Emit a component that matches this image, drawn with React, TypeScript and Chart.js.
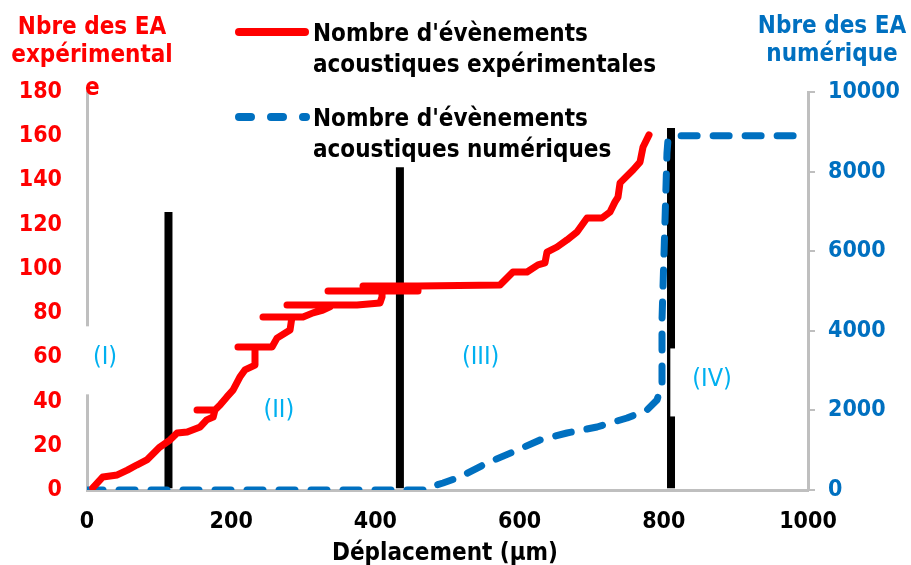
import React, { useEffect, useRef } from "react";
import { Chart, registerables } from "chart.js";

Chart.register(...registerables);

// Experimental acoustic events (left axis)
const expX = [8, 22, 42, 56, 69, 83, 101, 115, 125, 139, 157, 166, 175, 177.5, 152.6, 177.5, 184.5, 194, 202.5, 212, 219, 233, 233, 209.4, 233, 256.6, 263.5, 281.6, 284.3, 244.1, 284.3, 299.6, 313.5, 327.3, 337, 337, 277.4, 337, 374.5, 406.4, 409.2, 409.2, 334.3, 409.2, 459.1, 459.1, 382.8, 459.1, 572.8, 590.8, 610.3, 625.5, 635.2, 638, 651.9, 665.7, 679.6, 693.5, 714.3, 725.4, 732.3, 736.5, 739.3, 757.3, 767, 771.2, 779.5];
const expY = [1, 5.9, 6.8, 9, 11.3, 13.6, 19.4, 22.6, 25.8, 26.2, 28.5, 31.7, 33, 36.2, 36.2, 36.2, 38.4, 42.1, 45.2, 51.1, 54.3, 56.5, 64.7, 64.7, 64.7, 64.7, 68.7, 72.4, 78.2, 78.2, 78.2, 78.2, 80.1, 81.4, 82.8, 83.7, 83.7, 83.7, 83.7, 84.6, 87.3, 90, 90, 90, 90, 92.3, 92.3, 92.3, 92.7, 98.6, 98.6, 101.8, 102.7, 107.6, 109.9, 113.1, 116.7, 123, 123, 125.7, 130.3, 132.5, 138.9, 144.7, 148.3, 155.1, 160.6];

// Numerical acoustic events (right axis)
const numX = [0, 470, 475.7, 493.8, 517.3, 554.8, 590.8, 628.3, 665.7, 707.4, 749, 776.7, 790.6, 797.5, 797.5, 801.7, 804.4, 805.8, 822.5, 1000];
const numY = [0, 0, 75, 176, 327, 678, 955, 1256, 1432, 1583, 1809, 2010, 2261, 2688, 4271, 6784, 8467, 8794, 8900, 8900];

// Phase separators (black vertical bars)
const phaseBarX = [113, 434, 810];
const phaseBarTop = [125.7, 146, 163.7];

// Phase labels
const phaseLabels = ["(I)", "(II)", "(III)", "(IV)"];
const phaseLabelX = [25, 266, 546, 867];
const phaseLabelY = [60, 36, 60, 50];

const leftTitle = ["Nbre des EA", "expérimental", "e"];
const rightTitle = ["Nbre des EA", "numérique"];
const xTitle = "Déplacement (µm)";
const legendExp = ["Nombre d'évènements", "acoustiques expérimentales"];
const legendNum = ["Nombre d'évènements", "acoustiques numériques"];

const FONT = "'DejaVu Sans Condensed', 'DejaVu Sans', sans-serif";
const RED = "#FF0000";
const BLUE = "#0070C0";
const LIGHTBLUE = "#00B0F0";
const GRAY = "#BFBFBF";

const overlay = {
  id: "overlay",
  beforeDatasetDraw(chart: any, args: any) {
    if (args.index !== 1) return;
    const ctx = chart.ctx;
    const xs = chart.scales.x;
    const ys = chart.scales.y;
    ctx.save();
    ctx.font = `normal 25px ${FONT}`;
    phaseLabels.forEach((t, i) => {
      const cx = xs.getPixelForValue(phaseLabelX[i]);
      const cy = ys.getPixelForValue(phaseLabelY[i]);
      const w = ctx.measureText(t).width;
      ctx.fillStyle = "#ffffff";
      ctx.fillRect(cx - w / 2 - 22, cy - 31, w + 44, 68);
      ctx.fillStyle = LIGHTBLUE;
      ctx.textAlign = "center";
      ctx.textBaseline = "middle";
      ctx.fillText(t, cx, cy);
    });
    ctx.restore();
  },
  afterDraw(chart: any) {
    const ctx = chart.ctx;
    ctx.save();
    ctx.textBaseline = "alphabetic";
    ctx.font = `bold 24px ${FONT}`;
    // left title
    ctx.fillStyle = RED;
    ctx.textAlign = "center";
    ctx.fillText(leftTitle[0], 92, 34);
    ctx.fillText(leftTitle[1], 92, 62);
    ctx.textAlign = "left";
    ctx.fillText(leftTitle[2], 85, 95);
    // right title
    ctx.fillStyle = BLUE;
    ctx.textAlign = "center";
    ctx.fillText(rightTitle[0], 832, 33);
    ctx.fillText(rightTitle[1], 832, 61);
    // x title
    ctx.fillStyle = "#000";
    ctx.fillText(xTitle, 445, 560);
    // legend
    ctx.textAlign = "left";
    ctx.fillText(legendExp[0], 313, 41);
    ctx.fillText(legendExp[1], 313, 72);
    ctx.fillText(legendNum[0], 313, 126);
    ctx.fillText(legendNum[1], 313, 157);
    ctx.lineCap = "round";
    ctx.lineWidth = 8;
    ctx.strokeStyle = RED;
    ctx.beginPath();
    ctx.moveTo(239, 32);
    ctx.lineTo(305, 32);
    ctx.stroke();
    ctx.strokeStyle = BLUE;
    ctx.setLineDash([12, 20]);
    ctx.beginPath();
    ctx.moveTo(239, 117);
    ctx.lineTo(306, 117);
    ctx.stroke();
    ctx.restore();
  },
};

const plain = (v: any) => String(v);

export default function App() {
  const ref = useRef<HTMLCanvasElement>(null);
  useEffect(() => {
    if (!ref.current) return;
    const bars = phaseBarX.map((x, i) => ({
      type: "scatter" as const,
      label: "bar" + i,
      data: [
        { x, y: 0.8 },
        { x, y: phaseBarTop[i] },
      ],
      yAxisID: "y",
      showLine: true,
      borderColor: "#000000",
      borderWidth: 8,
      borderCapStyle: "butt",
      pointRadius: 0,
      order: 2,
    }));
    const chart = new Chart(ref.current, {
      type: "scatter",
      data: {
        datasets: [
          {
            label: legendExp.join(" "),
            data: expX.map((x, i) => ({ x, y: expY[i] })),
            yAxisID: "y",
            showLine: true,
            borderColor: RED,
            borderWidth: 7,
            borderJoinStyle: "round",
            borderCapStyle: "round",
            pointRadius: 0,
            order: 0,
          },
          {
            label: legendNum.join(" "),
            data: numX.map((x, i) => ({ x, y: numY[i] })),
            yAxisID: "y1",
            showLine: true,
            borderColor: BLUE,
            borderWidth: 7,
            borderDash: [16, 16],
            borderJoinStyle: "round",
            borderCapStyle: "round",
            pointRadius: 0,
            order: 1,
          },
          ...bars,
        ] as any,
      },
      options: {
        animation: false,
        responsive: false,
        devicePixelRatio: 1,
        events: [],
        layout: { padding: { top: 92, left: 0, right: 0, bottom: 0 } },
        plugins: { legend: { display: false }, tooltip: { enabled: false } },
        scales: {
          x: {
            type: "linear",
            min: 0,
            max: 1000,
            ticks: {
              stepSize: 200,
              color: "#000",
              font: { family: FONT, size: 23, weight: "bold" },
              padding: 18,
              maxRotation: 0,
              callback: plain,
            },
            grid: { display: false, drawTicks: false },
            border: { display: true, color: GRAY, width: 3 },
            afterFit: (s: any) => {
              s.height = 75;
            },
          },
          y: {
            type: "linear",
            position: "left",
            min: 0,
            max: 180,
            ticks: {
              stepSize: 20,
              color: RED,
              font: { family: FONT, size: 23, weight: "bold" },
              padding: 25,
              callback: plain,
            },
            grid: { display: false, drawTicks: false },
            border: { display: true, color: GRAY, width: 3 },
            afterFit: (s: any) => {
              s.width = 87;
            },
          },
          y1: {
            type: "linear",
            position: "right",
            min: 0,
            max: 10000,
            ticks: {
              stepSize: 2000,
              color: BLUE,
              font: { family: FONT, size: 23, weight: "bold" },
              padding: 13,
              callback: plain,
            },
            grid: {
              display: true,
              drawOnChartArea: false,
              drawTicks: true,
              tickLength: 7,
              color: GRAY,
              lineWidth: 2,
            },
            border: { display: true, color: GRAY, width: 3 },
            afterFit: (s: any) => {
              s.width = 103;
            },
          },
        },
      } as any,
      plugins: [overlay],
    });
    return () => chart.destroy();
  }, []);
  return (
    <div style={{ position: "absolute", left: 0, top: 0, width: 911, height: 565, background: "#fff" }}>
      <canvas ref={ref} width={911} height={565} />
    </div>
  );
}
